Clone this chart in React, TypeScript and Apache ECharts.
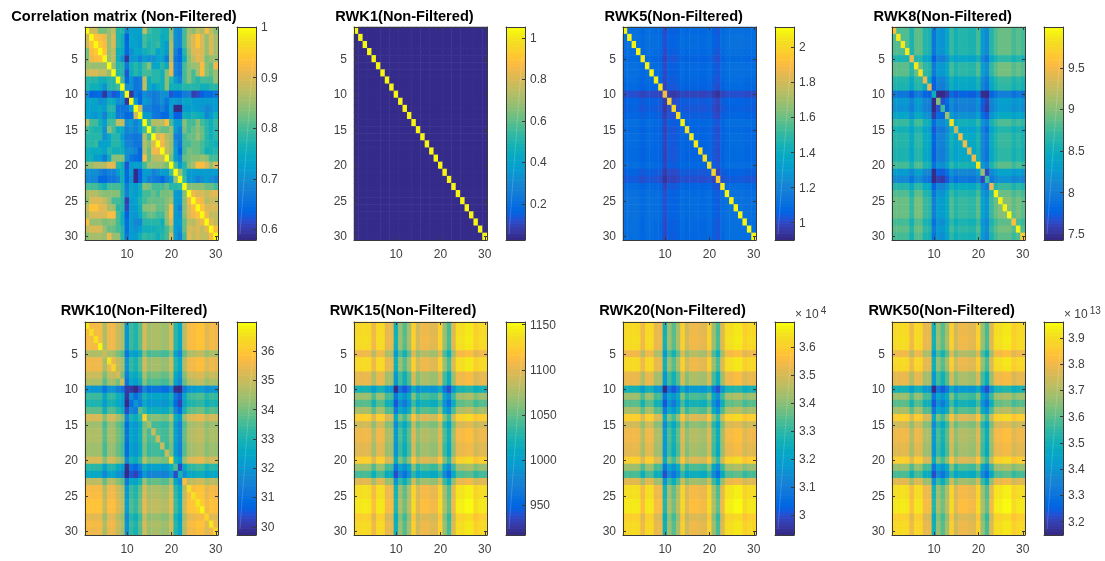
import React, { useEffect, useRef } from "react";
import * as echarts from "echarts";

const SIZE = 30;
const categories = Array.from({ length: SIZE }, (_, i) => String(i + 1));

// Upper triangle of the correlation matrix, in hundredths, read cell by cell (row r: columns r+1..30).
const corrUpper: number[][] = [
  [89,89,83,83,85,88,78,78,69,73,73,73,88,80,78,78,76,76,84,70,69,80,86,84,88,86,93,88,84],
  [94,93,92,85,90,78,76,63,74,73,72,80,78,78,78,75,76,85,70,69,80,87,90,94,90,85,90,86],
  [95,93,85,90,78,76,64,73,73,71,80,77,78,79,75,72,87,70,69,80,87,90,94,90,85,90,86],
  [94,85,88,76,75,64,70,74,73,76,77,78,73,75,72,87,68,64,78,85,90,91,90,85,90,86],
  [85,88,76,70,59,71,72,68,72,70,70,73,73,67,87,66,64,76,84,88,91,90,83,85,85],
  [85,78,78,66,76,78,76,80,84,74,74,78,75,91,68,66,80,84,85,86,93,84,82,92],
  [78,78,62,75,78,76,80,80,78,78,76,84,91,68,66,80,84,80,86,93,84,82,85],
  [80,64,70,66,67,88,75,78,78,76,84,78,72,68,80,84,80,78,80,80,80,85],
  [70,70,66,67,88,75,72,75,76,84,76,76,76,78,78,78,78,76,76,78,78],
  [59,66,64,70,68,67,68,70,70,62,64,64,67,68,60,61,63,65,65,66],
  [72,64,72,70,67,68,70,66,72,72,70,74,74,72,72,72,72,72,72],
  [89,68,68,66,66,68,65,73,58,58,72,72,73,72,71,69,70,72],
  [72,72,67,66,64,64,72,63,63,76,75,77,76,75,69,72,76],
  [80,87,87,87,93,80,72,72,84,80,80,84,80,78,76,79],
  [80,84,82,82,85,72,68,83,80,82,84,82,78,76,78],
  [90,92,87,85,68,67,80,82,82,85,82,78,76,78],
  [92,88,85,70,66,80,80,82,82,80,78,77,76],
  [88,85,72,64,80,83,82,82,80,76,77,78],
  [83,72,68,82,83,84,84,85,84,80,80],
  [80,72,78,84,86,93,93,90,85,90],
  [85,78,72,72,72,72,72,72,72],
  [79,71,71,68,70,72,70,68],
  [84,84,84,84,82,82,80],
  [92,90,90,88,90,91],
  [93,92,87,89,88],
  [94,90,90,90],
  [92,88,88],
  [91,88],
  [93],
];

// RWK panels are plaids: the table of each is built from the row/column strength read along its rows,
// times the top value of its off-diagonal cells, and the diagonal read on its own where it stands out.
const rwk1Strength = Array.from({ length: SIZE }, () => 1);
const rwk1Diagonal = Array.from({ length: SIZE }, () => 1.04);
const rwk5Strength = [0.99,1,1,0.99,0.97,0.99,0.99,0.98,0.97,0.9,0.95,0.94,0.955,0.985,0.97,0.975,0.975,0.97,0.97,0.985,0.945,0.925,0.975,0.995,1,1,1,0.99,0.99,0.985];
const rwk5Diagonal = [2.1,2.1,2.1,2.1,2.08,2.1,2.1,2.08,2.06,1.9,2,2.02,2.05,2.1,2.05,2.08,2.08,2.05,2.05,2.05,2,1.98,2.08,2.1,2.1,2.1,2.11,2.1,2.11,2.1];
const rwk8Strength = [0.99,0.99,0.99,0.99,0.965,0.995,0.995,0.97,0.965,0.89,0.925,0.92,0.94,0.98,0.96,0.97,0.97,0.965,0.965,0.985,0.93,0.91,0.97,0.99,1,1,1,0.985,0.995,0.985];
const rwk8Diagonal = [9.6,9.9,9.9,9.9,9.5,9.9,9.85,9.5,9.45,8.5,9,8.75,9.1,9.85,9.25,9.55,9.55,9.45,9.5,9.9,9.05,8.75,9.5,9.95,9.95,9.95,9.98,9.6,9.95,9.7];
const rwk10Strength = [0.993,0.993,0.993,0.993,0.965,0.99,0.99,0.975,0.965,0.89,0.93,0.92,0.94,0.98,0.96,0.965,0.965,0.96,0.96,0.98,0.925,0.905,0.97,0.993,0.995,1,1,0.985,0.993,0.99];
const rwk10Diagonal = [36.7,36.5,36.6,36.9,35,36.6,36.3,35.2,35,30,31.8,32,33.8,36.2,34.5,35,35,35,35,36.3,33.6,33,35.8,36.5,36.6,36.7,36.9,36.3,36.7,36.3];
const rwk15Strength = [0.992,0.992,0.994,0.992,0.968,0.992,0.992,0.965,0.965,0.892,0.935,0.915,0.94,0.985,0.955,0.968,0.968,0.962,0.962,0.985,0.935,0.91,0.962,0.995,0.995,1,1,0.985,0.992,0.992];
const rwk20Strength = [0.992,0.992,0.994,0.992,0.968,0.992,0.992,0.965,0.965,0.891,0.935,0.915,0.94,0.985,0.955,0.968,0.968,0.964,0.962,0.985,0.935,0.91,0.962,0.995,0.995,1,1,0.985,0.992,0.992];
const rwk50Strength = [0.992,0.992,0.994,0.992,0.968,0.992,0.99,0.965,0.965,0.892,0.935,0.916,0.94,0.985,0.955,0.968,0.968,0.964,0.962,0.985,0.935,0.911,0.962,0.995,0.995,1,1,0.985,0.992,0.992];

const titles = ["Correlation matrix (Non-Filtered)","RWK1(Non-Filtered)","RWK5(Non-Filtered)","RWK8(Non-Filtered)","RWK10(Non-Filtered)","RWK15(Non-Filtered)","RWK20(Non-Filtered)","RWK50(Non-Filtered)"];
const colorRanges: [number, number][] = [[0.579,1],[0.026,1.053],[0.901,2.116],[7.43,9.99],[29.72,36.99],[917,1153],[2.928e4,3.69e4],[3.149e13,3.96e13]];
const colorTicks = [
  [0.6,0.7,0.8,0.9,1],
  [0.2,0.4,0.6,0.8,1],
  [1,1.2,1.4,1.6,1.8,2],
  [7.5,8,8.5,9,9.5],
  [30,31,32,33,34,35,36],
  [950,1000,1050,1100,1150],
  [3e4,3.1e4,3.2e4,3.3e4,3.4e4,3.5e4,3.6e4],
  [3.2e13,3.3e13,3.4e13,3.5e13,3.6e13,3.7e13,3.8e13,3.9e13],
];
const tickScales = [1,1,1,1,1,1,1e4,1e13];
const exponents: (string | null)[] = [null,null,null,null,null,null,"4","13"];

const PARULA = [
[.2081,.1663,.5292],[.2116,.1898,.5777],[.2123,.2138,.627],[.2081,.2386,.6771],[.1959,.2645,.7279],[.1707,.2919,.7792],[.1253,.3242,.8303],[.0591,.3598,.8683],
[.0117,.3875,.882],[.006,.4086,.8828],[.0165,.4266,.8786],[.0329,.443,.872],[.0498,.4586,.8641],[.0629,.4737,.8554],[.0723,.4887,.8467],[.0779,.504,.8384],
[.0793,.52,.8312],[.0749,.5375,.8263],[.0641,.557,.824],[.0488,.5772,.8228],[.0343,.5966,.8199],[.0265,.6137,.8135],[.0239,.6287,.8038],[.0231,.6418,.7913],
[.0228,.6535,.7768],[.0267,.6642,.7607],[.0384,.6743,.7436],[.059,.6838,.7254],[.0843,.6928,.7062],[.1133,.7015,.6859],[.1453,.7098,.6646],[.1801,.7177,.6424],
[.2178,.725,.6193],[.2586,.7317,.5954],[.3022,.7376,.5712],[.3482,.7424,.5473],[.3953,.7459,.5244],[.442,.7481,.5033],[.4871,.7491,.484],[.53,.7491,.4661],
[.5709,.7485,.4494],[.6099,.7473,.4337],[.6473,.7456,.4188],[.6834,.7435,.4044],[.7184,.7411,.3905],[.7525,.7384,.3768],[.7858,.7356,.3633],[.8185,.7327,.3498],
[.8507,.7299,.336],[.8824,.7274,.3217],[.9139,.7258,.3063],[.945,.7261,.2886],[.9739,.7314,.2666],[.9938,.7455,.2403],[.999,.7653,.2164],[.9955,.7861,.1967],
[.988,.8066,.1794],[.9789,.8271,.1633],[.9697,.8481,.1475],[.9626,.8705,.1309],[.9589,.8949,.1132],[.9598,.9218,.0948],[.9661,.9514,.0755],[.9763,.9831,.0538],
].map(([r, g, b]) => `rgb(${Math.round(r * 255)},${Math.round(g * 255)},${Math.round(b * 255)})`);

function corrTable(): number[][] {
  const out: number[][] = [];
  for (let r = 0; r < SIZE; r++) {
    out.push([r, r, 1]);
    corrUpper[r]?.forEach((v, k) => {
      const c = r + 1 + k;
      out.push([c, r, v / 100], [r, c, v / 100]);
    });
  }
  return out;
}
function plaidTable(top: number, strength: number[], diagonal?: number[]): number[][] {
  const out: number[][] = [];
  for (let r = 0; r < SIZE; r++)
    for (let c = 0; c < SIZE; c++)
      out.push([c, r, r === c && diagonal ? diagonal[r] : top * strength[r] * strength[c]]);
  return out;
}
const tables = [
  corrTable(),
  plaidTable(0.03, rwk1Strength, rwk1Diagonal),
  plaidTable(1.12, rwk5Strength, rwk5Diagonal),
  plaidTable(9.0, rwk8Strength, rwk8Diagonal),
  plaidTable(36.2, rwk10Strength, rwk10Diagonal),
  plaidTable(1153, rwk15Strength),
  plaidTable(3.69e4, rwk20Strength),
  plaidTable(3.96e13, rwk50Strength),
];

const plotX = [85, 354, 623, 892];
const barX = [237, 506, 775, 1044];
const rowTop = [27, 322];
const PLOT_W = 133, PLOT_H = 213, BAR_W = 19;
const titleX = [124, 404.5, 673.8, 942.8, 134, 403, 672.5, 941.7];
const titleY = [16, 310];
const FONT = '"Liberation Sans", Arial, sans-serif';
const LINE = "#3a3a3a", TEXT = "#404040";

function buildOption() {
  const grid: any[] = [], xAxis: any[] = [], yAxis: any[] = [], series: any[] = [], visualMap: any[] = [], graphic: any[] = [];
  const line = { show: true, onZero: false, lineStyle: { color: LINE, width: 1 } };
  const hasTickX = (i: number) => (i + 1) % 10 === 0;
  const hasTickY = (i: number) => (i + 1) % 5 === 0;
  for (let p = 0; p < 8; p++) {
    const col = p % 4, row = p < 4 ? 0 : 1;
    const g = grid.length;
    grid.push({ left: plotX[col], top: rowTop[row], width: PLOT_W, height: PLOT_H, containLabel: false });
    const catX = (position: string, labels: boolean) => ({
      type: "category", gridIndex: g, data: categories, position, z: 10, axisLine: line,
      axisTick: { show: true, inside: true, length: 3, alignWithLabel: true, interval: hasTickX, lineStyle: { color: LINE } },
      axisLabel: { show: labels, interval: hasTickX, margin: 8, color: TEXT, fontSize: 12, fontFamily: FONT },
      splitLine: { show: false },
    });
    const catY = (position: string, labels: boolean) => ({
      type: "category", gridIndex: g, data: categories, position, inverse: true, z: 10, axisLine: line,
      axisTick: { show: true, inside: true, length: 3, alignWithLabel: true, interval: hasTickY, lineStyle: { color: LINE } },
      axisLabel: { show: labels, interval: hasTickY, margin: 7, color: TEXT, fontSize: 12, fontFamily: FONT },
      splitLine: { show: false },
    });
    const xi = xAxis.length, yi = yAxis.length;
    xAxis.push(catX("bottom", true), catX("top", false));
    yAxis.push(catY("left", true), catY("right", false));
    const si = series.length;
    series.push({ type: "heatmap", xAxisIndex: xi, yAxisIndex: yi, data: tables[p], silent: true, progressive: 0 });
    visualMap.push({ type: "continuous", show: false, seriesIndex: si, dimension: 2, min: colorRanges[p][0], max: colorRanges[p][1], inRange: { color: PARULA } });

    // colour bar
    const b = grid.length;
    const [lo, hi] = colorRanges[p];
    grid.push({ left: barX[col], top: rowTop[row], width: BAR_W, height: PLOT_H });
    const barAxisX = (position: string) => ({ type: "value", gridIndex: b, min: 0, max: 1, position, z: 10, axisLine: line, axisTick: { show: false }, axisLabel: { show: false }, splitLine: { show: false } });
    const bx = xAxis.length, by = yAxis.length;
    xAxis.push(barAxisX("bottom"), barAxisX("top"));
    const scale = tickScales[p];
    yAxis.push(
      { type: "value", gridIndex: b, min: lo, max: hi, position: "right", z: 10, axisLine: line,
        axisTick: { show: true, inside: true, length: 3, customValues: colorTicks[p], lineStyle: { color: LINE } },
        axisLabel: { show: true, inside: false, margin: 5, customValues: colorTicks[p], color: TEXT, fontSize: 12, fontFamily: FONT,
          formatter: (v: number) => String(Number((v / scale).toFixed(3))) },
        splitLine: { show: false } },
      { type: "value", gridIndex: b, min: lo, max: hi, position: "left", z: 10, axisLine: line, axisTick: { show: false }, axisLabel: { show: false }, splitLine: { show: false } },
    );
    const levels = PARULA.map((_, i) => [lo + ((hi - lo) * i) / 64, lo + ((hi - lo) * (i + 1)) / 64, i]);
    series.push({
      type: "custom", xAxisIndex: bx, yAxisIndex: by, silent: true, data: levels, clip: false,
      renderItem: (_: any, api: any) => {
        const a = api.coord([0, api.value(0)]);
        const c = api.coord([1, api.value(1)]);
        return { type: "rect", shape: { x: a[0], y: c[1], width: c[0] - a[0], height: a[1] - c[1] + 0.6 }, style: { fill: PARULA[api.value(2)] } };
      },
    });
    graphic.push({ type: "line", silent: true, z: 20, shape: { x1: barX[col] + 3, y1: rowTop[row] + PLOT_H - 6, x2: barX[col] + BAR_W - 3, y2: rowTop[row] + 30 }, style: { stroke: "rgba(255,255,255,0.25)", lineWidth: 0.7 } });
    graphic.push({ type: "text", silent: true, z: 20, x: titleX[p], y: titleY[row], style: { text: titles[p], x: 0, y: 0, textAlign: "center", textVerticalAlign: "middle", fill: "#000", font: `bold 14.6px ${FONT}` } });
    if (exponents[p]) {
      graphic.push({ type: "text", silent: true, z: 20, x: barX[col] + 20, y: rowTop[row] - 10,
        style: { text: `{a|× 10}{b|${exponents[p]}}`, textVerticalAlign: "middle", fill: TEXT,
          rich: { a: { fontSize: 12, fontFamily: FONT, fill: TEXT, padding: [3, 0, 0, 0] }, b: { fontSize: 10, fontFamily: FONT, fill: TEXT, padding: [0, 0, 4, 2] } } } });
    }
  }
  return { animation: false, backgroundColor: "#fff", grid, xAxis, yAxis, series, visualMap, graphic };
}

export default function App() {
  const ref = useRef<HTMLDivElement>(null);
  useEffect(() => {
    document.body.style.margin = "0";
    const chart = echarts.init(ref.current!, undefined, { renderer: "svg" });
    chart.setOption(buildOption() as any);
    return () => chart.dispose();
  }, []);
  return <div ref={ref} style={{ width: 1105, height: 561, filter: "blur(0.35px)" }} />;
}
